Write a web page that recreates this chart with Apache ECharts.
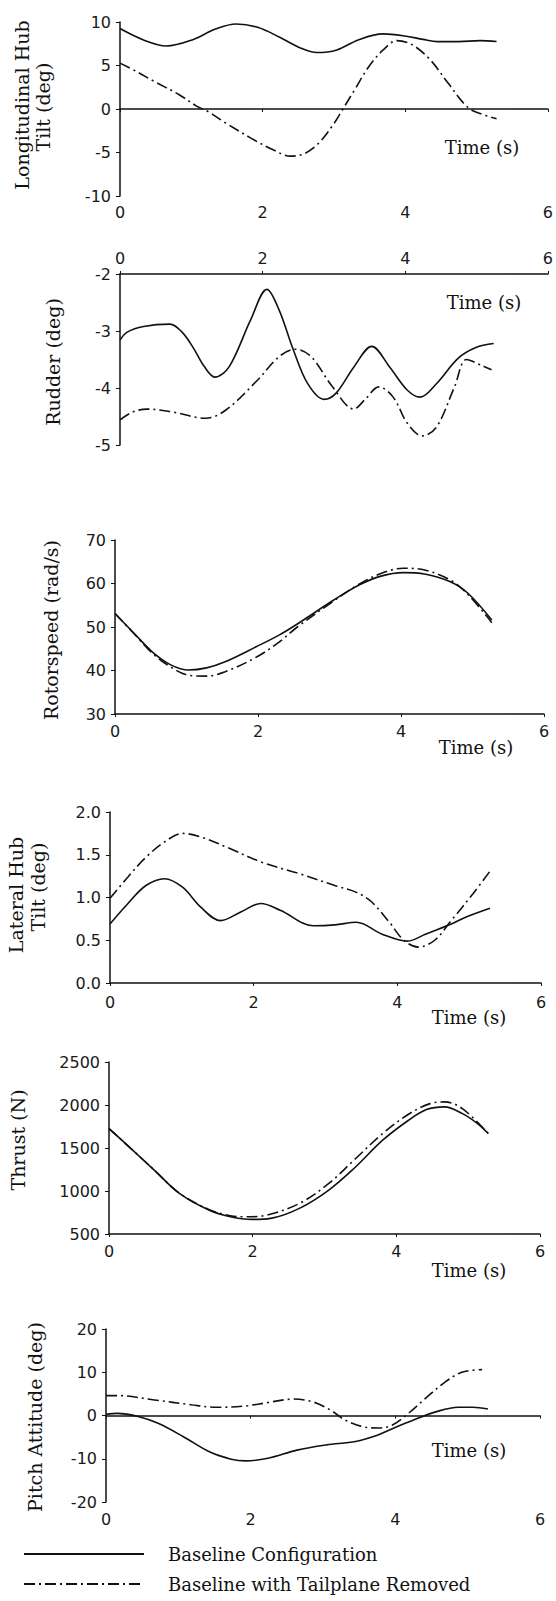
<!DOCTYPE html>
<html>
<head>
<meta charset="utf-8">
<script src="https://cdn.jsdelivr.net/npm/echarts@6/dist/echarts.min.js"></script>
<style>
html,body{margin:0;padding:0;background:#fff;}
#chart{width:556px;height:1601px;}
</style>
</head>
<body>
<div id="chart"></div>
<script>
// ---------- data (time in s, value) ----------
const seriesNames = ['Baseline Configuration', 'Baseline with Tailplane Removed'];
const timeTicks = [0, 2, 4, 6];

const longHubBase = [[0,9.25],[0.33,7.94],[0.65,7.25],[1.03,8.0],[1.33,9.16],[1.63,9.77],[1.93,9.39],[2.24,8.24],[2.54,6.98],[2.76,6.49],[3.04,6.79],[3.34,7.94],[3.69,8.63],[3.99,8.4],[4.25,8.0],[4.45,7.75],[4.75,7.75],[5.05,7.86],[5.28,7.75]];
const longHubTail = [[0,5.27],[0.23,4.31],[0.48,3.17],[0.83,1.64],[1.08,0.3],[1.23,-0.27],[1.48,-1.6],[1.83,-3.32],[2.14,-4.66],[2.39,-5.42],[2.59,-5.11],[2.79,-3.89],[2.99,-1.79],[3.12,-0.08],[3.29,2.21],[3.49,4.89],[3.69,6.79],[3.88,7.86],[4.1,7.37],[4.35,5.65],[4.6,2.98],[4.87,0.23],[5.05,-0.53],[5.28,-1.11]];

const rudderBase = [[0,-3.16],[0.1,-3.02],[0.33,-2.92],[0.7,-2.88],[0.87,-3.02],[1.03,-3.3],[1.18,-3.62],[1.33,-3.81],[1.53,-3.63],[1.83,-2.81],[2.06,-2.27],[2.23,-2.63],[2.43,-3.33],[2.63,-3.92],[2.86,-4.2],[3.03,-4.09],[3.28,-3.63],[3.53,-3.27],[3.78,-3.63],[4.03,-4.04],[4.21,-4.16],[4.44,-3.92],[4.74,-3.48],[4.99,-3.29],[5.24,-3.22]];
const rudderTail = [[0,-4.56],[0.18,-4.42],[0.38,-4.37],[0.73,-4.42],[1.2,-4.53],[1.48,-4.39],[1.93,-3.86],[2.23,-3.45],[2.46,-3.32],[2.68,-3.45],[2.98,-3.98],[3.28,-4.37],[3.43,-4.21],[3.63,-3.98],[3.83,-4.16],[4.03,-4.62],[4.24,-4.84],[4.44,-4.68],[4.69,-3.98],[4.86,-3.5],[5.06,-3.6],[5.21,-3.68]];

const rotorBase = [[0,53.1],[0.27,48.5],[0.52,44.3],[0.78,41.3],[1.03,40.1],[1.28,40.6],[1.54,42.0],[1.98,45.5],[2.3,48.2],[2.55,50.7],[3.06,56.2],[3.42,59.7],[3.72,61.7],[4.03,62.5],[4.33,62.2],[4.69,60.4],[4.94,57.7],[5.27,51.6]];
const rotorTail = [[0,53.1],[0.27,48.4],[0.52,44.0],[0.78,40.8],[1.03,38.9],[1.28,38.7],[1.54,39.7],[1.98,43.1],[2.3,46.6],[2.55,50.0],[3.06,56.0],[3.42,59.9],[3.72,62.3],[4.03,63.5],[4.33,63.1],[4.69,60.8],[4.94,57.4],[5.27,51.0]];

const latHubBase = [[0,0.69],[0.25,0.93],[0.5,1.14],[0.76,1.22],[1.01,1.12],[1.26,0.89],[1.54,0.73],[1.82,0.83],[2.1,0.93],[2.37,0.85],[2.83,0.67],[3.13,0.68],[3.43,0.71],[3.79,0.57],[4.14,0.49],[4.39,0.57],[4.75,0.69],[4.95,0.77],[5.29,0.875]];
const latHubTail = [[0,0.99],[0.25,1.24],[0.5,1.47],[0.76,1.65],[1.01,1.75],[1.26,1.71],[1.62,1.59],[2.12,1.41],[2.63,1.28],[3.13,1.14],[3.43,1.06],[3.64,0.95],[3.89,0.71],[4.09,0.5],[4.29,0.42],[4.52,0.5],[4.75,0.73],[5.05,1.04],[5.3,1.32]];

const thrustBase = [[0,1726],[0.28,1513],[0.63,1243],[0.98,972],[1.39,779],[1.69,701],[1.99,670],[2.25,682],[2.65,798],[3.06,1011],[3.41,1262],[3.81,1591],[4.17,1823],[4.42,1947],[4.67,1978],[4.92,1900],[5.13,1784],[5.28,1668]];
const thrustTail = [[0,1726],[0.28,1513],[0.63,1243],[0.98,975],[1.39,785],[1.69,712],[1.9,700],[2.2,720],[2.65,855],[3.06,1088],[3.41,1359],[3.81,1668],[4.17,1893],[4.47,2016],[4.67,2036],[4.92,1958],[5.28,1668]];

const pitchBase = [[0,0.3],[0.16,0.5],[0.42,-0.1],[0.72,-1.8],[1.07,-4.9],[1.43,-8.4],[1.73,-10.1],[1.93,-10.5],[2.24,-9.9],[2.64,-8.0],[3.05,-6.8],[3.45,-6.0],[3.76,-4.5],[3.98,-2.9],[4.26,-1.0],[4.57,0.9],[4.87,1.9],[5.07,1.9],[5.28,1.5]];
const pitchTail = [[0,4.6],[0.16,4.6],[0.67,3.6],[1.17,2.5],[1.53,1.9],[1.93,2.2],[2.24,3.0],[2.59,3.8],[2.85,3.2],[3.1,1.3],[3.3,-1.0],[3.55,-2.6],[3.76,-2.9],[3.96,-2.2],[4.16,0.2],[4.42,4.0],[4.67,7.5],[4.92,10.0],[5.2,10.6]];

// y-axis ranges [min, max, interval]
const yRanges = [[-10,10,5],[-5,-2,1],[30,70,10],[0,2,0.5],[500,2500,500],[-20,20,10]];
const yTitles = [['Longitudinal Hub','Tilt (deg)'],['Rudder (deg)'],['Rotorspeed (rad/s)'],['Lateral Hub','Tilt (deg)'],['Thrust (N)'],['Pitch Attitude (deg)']];
const xTitle = 'Time (s)';

// ---------- layout ----------
const grids = [
  {left:120, top:22,   width:428, height:174},
  {left:120, top:274,  width:429, height:171},
  {left:115, top:540,  width:429, height:174},
  {left:110, top:812,  width:431, height:171},
  {left:109, top:1062, width:431, height:172},
  {left:106, top:1329, width:434, height:173}
];
const xLabelMargin = [8, 8, 9, 11, 9, 9];
const timePos = [[482,147],[484,302],[476,747],[469,1017],[469,1270],[469,1450]];
const yTitlePos = [[[22,105],[43,107]],[[53,362]],[[51,630]],[[16,895],[38,887]],[[18,1140]],[[35,1417]]];
const panels = [[longHubBase,longHubTail],[rudderBase,rudderTail],[rotorBase,rotorTail],[latHubBase,latHubTail],[thrustBase,thrustTail],[pitchBase,pitchTail]];

const INK = '#111';
const tickFont = {fontFamily:'DejaVu Sans', fontSize:16, color:'#1a1a1a'};
const titleFont = 'DejaVu Serif';

const xAxes = [], yAxes = [], series = [], graphics = [];
grids.forEach((g, i) => {
  xAxes.push({
    gridIndex:i, type:'value', min:0, max:6, interval:2,
    position: i === 1 ? 'top' : 'bottom',
    axisLine:{show:true, onZero:true, lineStyle:{color:INK, width:1.5}},
    axisTick:{show:true, length:3, lineStyle:{color:INK, width:1}},
    splitLine:{show:false},
    axisLabel:Object.assign({margin:xLabelMargin[i], showMinLabel:true, showMaxLabel:true}, tickFont)
  });
  const r = yRanges[i];
  yAxes.push({
    gridIndex:i, type:'value', min:r[0], max:r[1], interval:r[2],
    axisLine:{show:true, onZero:false, lineStyle:{color:INK, width:1.5}},
    axisTick:{show:true, length:4, lineStyle:{color:INK, width:1}},
    splitLine:{show:false},
    axisLabel:Object.assign({margin:9, formatter: i === 3 ? (v => v.toFixed(1)) : (v => String(v))}, tickFont)
  });
  panels[i].forEach((d, k) => {
    series.push({
      name: seriesNames[k], type:'line', xAxisIndex:i, yAxisIndex:i,
      data:d, smooth:0.35, symbol:'none', showSymbol:false, silent:true,
      lineStyle:{color:INK, width:1.6, type: k === 0 ? 'solid' : [11,4,2,4]},
      itemStyle:{color:INK}
    });
  });
  graphics.push({type:'text', x:timePos[i][0], y:timePos[i][1],
    style:{text:xTitle, fill:INK, font:'18px "' + titleFont + '"', align:'center', verticalAlign:'middle'}});
  yTitles[i].forEach((t, k) => {
    graphics.push({type:'text', x:yTitlePos[i][k][0], y:yTitlePos[i][k][1], rotation:Math.PI/2,
      style:{text:t, fill:INK, font:'19px "' + titleFont + '"', align:'center', verticalAlign:'middle'}});
  });
});

const chart = echarts.init(document.getElementById('chart'), null, {renderer:'svg', width:556, height:1601});
chart.setOption({
  animation:false,
  backgroundColor:'#fff',
  grid:grids,
  xAxis:xAxes,
  yAxis:yAxes,
  series:series,
  graphic:graphics,
  legend:{
    data:seriesNames, orient:'vertical', left:23, top:1544, padding:0,
    itemWidth:120, itemHeight:20, itemGap:10, selectedMode:false,
    itemStyle:{opacity:0, color:'rgba(0,0,0,0)', borderColor:'rgba(0,0,0,0)'},
    textStyle:{fontFamily:titleFont, fontSize:18, color:INK, lineHeight:20, padding:[0,0,0,19]}
  }
});
</script>
</body>
</html>
